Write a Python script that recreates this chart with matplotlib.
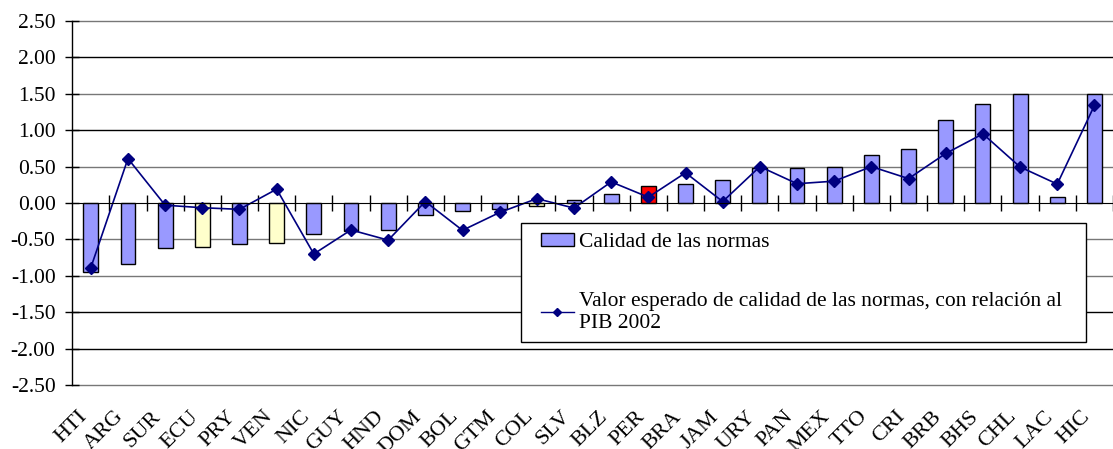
import matplotlib.pyplot as plt
from matplotlib.lines import Line2D
from matplotlib.patches import Patch
from matplotlib.legend_handler import HandlerPatch, HandlerLine2D

# ---
# DATA
# -----
countries = ["HTI", "ARG", "SUR", "ECU", "PRY", "VEN", "NIC", "GUY", "HND", "DOM",
             "BOL", "GTM", "COL", "SLV", "BLZ", "PER", "BRA", "JAM", "URY", "PAN",
             "MEX", "TTO", "CRI", "BRB", "BHS", "CHL", "LAC", "HIC"]
calidad = [-0.95, -0.84, -0.62, -0.60, -0.56, -0.545, -0.42, -0.38, -0.37, -0.17,
           -0.105, -0.087, -0.04, 0.045, 0.13, 0.24, 0.26, 0.315, 0.48, 0.485,
           0.50, 0.66, 0.745, 1.135, 1.355, 1.50, 0.08, 1.50]
esperado = [-0.89, 0.61, -0.03, -0.065, -0.087, 0.19, -0.70, -0.37, -0.51, 0.02,
            -0.375, -0.13, 0.06, -0.07, 0.29, 0.08, 0.415, 0.02, 0.50, 0.265,
            0.30, 0.50, 0.335, 0.68, 0.95, 0.495, 0.26, 1.34]
highlight_yellow = ["ECU", "VEN", "COL"]
highlight_red = ["PER"]

label_bar = "Calidad de las normas"
label_line = "Valor esperado de calidad de las normas, con relación al\nPIB 2002"

# ---
# STYLE
# -----
plt.rcParams["font.family"] = ["Liberation Serif", "DejaVu Serif"]
blue = "#9999FF"
yellow = "#FFFFCC"
red = "#FF0000"
navy = "#000080"

W, H = 1113, 449
fig = plt.figure(figsize=(W / 100, H / 100), dpi=100)
step = 37.63
left_px = 72.2
ax = fig.add_axes([left_px / W, (H - 385) / H, (W - left_px) / W, 364 / H])

colors = []
for c in countries:
    if c in highlight_red:
        colors.append(red)
    elif c in highlight_yellow:
        colors.append(yellow)
    else:
        colors.append(blue)

x = list(range(len(countries)))
ax.bar(x, calidad, width=0.4, color=colors, edgecolor="black", linewidth=1.0, zorder=3)
ax.plot(x, esperado, color=navy, lw=1.2, marker="D", markersize=6, zorder=4)

ax.set_xlim(-0.5, -0.5 + (W - left_px) / step)
ax.set_ylim(-2.5, 2.5)
yt = [2.5, 2.0, 1.5, 1.0, 0.5, 0.0, -0.5, -1.0, -1.5, -2.0, -2.5]
ax.set_yticks(yt)
ax.set_yticklabels([f"{v:.2f}" for v in yt], fontsize=15.5)
ax.tick_params(axis="y", direction="inout", length=10, width=1.0, pad=7)

# gridlines
for v in yt:
    if v == 0:
        continue
    col = "black" if v in (2.0, 1.0, -1.5, -2.0) else "#777777"
    ax.axhline(v, color=col, lw=1.0, zorder=1, clip_on=False)

ax.spines["top"].set_visible(False)
ax.spines["right"].set_visible(False)
ax.spines["bottom"].set_position(("data", 0))
ax.spines["bottom"].set_zorder(5)
ax.spines["left"].set_linewidth(1.0)
ax.spines["left"].set_zorder(5)
ax.set_xticks([i + 0.5 for i in x])
ax.set_xticklabels([])
ax.tick_params(axis="x", direction="inout", length=11, width=1.0)

sec = ax.secondary_xaxis("bottom")
sec.set_xticks(x)
sec.set_xticklabels(countries, rotation=45, ha="right", va="top", fontsize=16)
sec.tick_params(length=0, pad=16)
sec.spines["bottom"].set_visible(False)

handles = [Patch(facecolor=blue, edgecolor="black", linewidth=1.0),
           Line2D([], [], color=navy, lw=1.0, marker="D", markersize=4.5)]
leg = ax.legend(handles, [label_bar, label_line], loc="upper left",
                bbox_to_anchor=(0.431, 0.445, 0.543, 0.0), mode="expand",
                fontsize=15.5, frameon=True, fancybox=False, framealpha=1,
                edgecolor="black", borderpad=0.45, labelspacing=1.85,
                handlelength=2.0, handletextpad=0.25, handleheight=0.6,
                borderaxespad=0,
                handler_map={Patch: HandlerPatch(xpad=0.5),
                             Line2D: HandlerLine2D(xpad=0.5)})
leg.get_frame().set_linewidth(1.0)
leg.set_zorder(10)

fig.savefig("out.png", dpi=100)
